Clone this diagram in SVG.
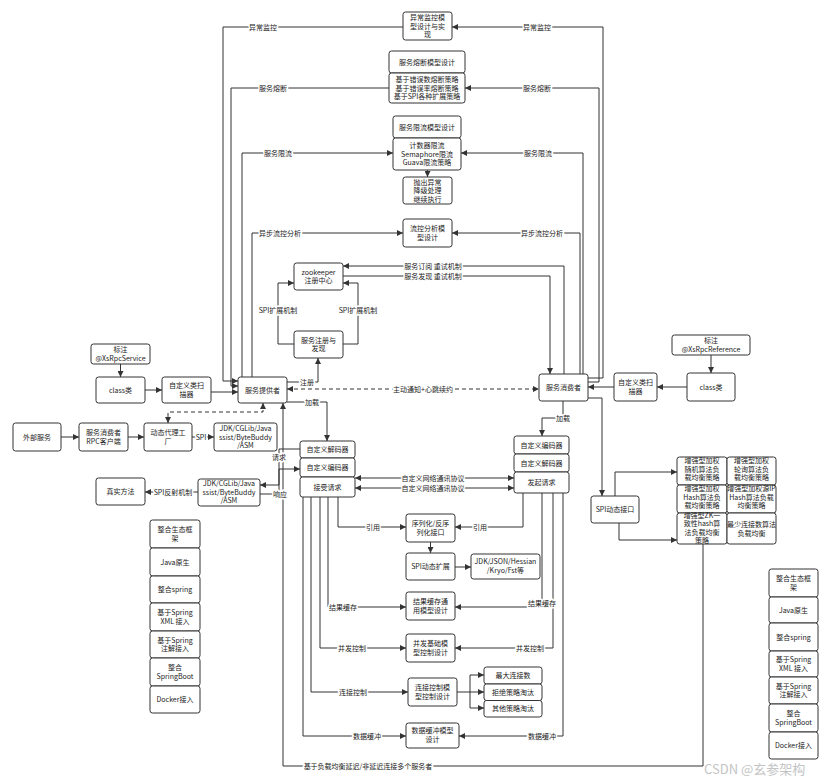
<svg xmlns="http://www.w3.org/2000/svg" width="832" height="784" viewBox="0 0 832 784">
<style>
.b{fill:#fff;stroke:#333;stroke-width:1}
.t{font-family:"Noto Sans CJK SC","Noto Sans",sans-serif;font-size:7px;fill:#222;text-anchor:middle}
.l{font-family:"Noto Sans CJK SC","Noto Sans",sans-serif;font-size:7px;fill:#222;text-anchor:middle;stroke:#fff;stroke-width:3px;paint-order:stroke;stroke-linejoin:round}
.c{fill:none;stroke:#333;stroke-width:1}
.a{marker-end:url(#ah)}
.aa{marker-start:url(#ah);marker-end:url(#ah)}
.d{stroke-dasharray:4 3}
.wm{font-family:"Noto Sans CJK SC","Noto Sans",sans-serif;font-size:13px;fill:#c4c4c4}
</style>
<defs>
<marker id="ah" markerUnits="userSpaceOnUse" markerWidth="7" markerHeight="6" refX="6" refY="3" orient="auto-start-reverse"><path d="M0,0 L6,3 L0,6 z" fill="#333"/></marker>
</defs>
<rect width="832" height="784" fill="#fff"/>

<!-- connectors -->
<g id="connectors">
<path class="c a" d="M403,27 H223 V381 H238"/>
<path class="c a" d="M588,378 H603 V27 H452"/>
<path class="c a" d="M389,88 H231 V386 H238"/>
<path class="c a" d="M588,382 H599 V88 H465"/>
<path class="c a" d="M242,377 V153 H393"/>
<path class="c a" d="M583,374 V153 H461"/>
<path class="c a" d="M252,377 V233 H403"/>
<path class="c a" d="M580,374 V233 H452"/>
<path class="c a" d="M427.5,170 V177"/>
<path class="c a" d="M294,344 H278 V283 H294"/>
<path class="c a" d="M343,344 H358 V283 H343"/>
<path class="c a" d="M287,382 H318 V358"/>
<path class="c a" d="M564,374 V266 H343"/>
<path class="c a" d="M343,276 H550 V374"/>
<path class="c aa d" d="M287,389 H539"/>
<path class="c a" d="M287,402 H327 V441"/>
<path class="c a" d="M563,401 V418 H542 V436"/>
<path class="c a" d="M588,398 H602 V496"/>
<path class="c a" d="M615,496 V472 H677"/>
<path class="c a" d="M619,523 V540 H677"/>
<path class="c a" d="M703,544 V766 H283 V403"/>
<path class="c a" d="M120.5,364 V377"/>
<path class="c a" d="M145,390 H162"/>
<path class="c a" d="M211,392 H238"/>
<path class="c a" d="M711,355 V373"/>
<path class="c a" d="M687,387 H657"/>
<path class="c a" d="M614,387 H588"/>
<path class="c aa d" d="M263,403 V412 H168 V423"/>
<path class="c a" d="M61,437 H79"/>
<path class="c a" d="M128,437 H144"/>
<path class="c a" d="M192,437 H214"/>
<path class="c a" d="M198,492 H145"/>
<path class="c a" d="M300,449 H279 V485 H260"/>
<path class="c a" d="M260,494 H279 V469 H300"/>
<path class="c aa" d="M355,478 H514"/>
<path class="c aa" d="M355,488 H514"/>
<path class="c a" d="M338,497 V527 H406"/>
<path class="c a" d="M523,493 V527 H455"/>
<path class="c a" d="M430.5,542 V553"/>
<path class="c a" d="M455,567 H471"/>
<path class="c a" d="M328,497 V607 H406"/>
<path class="c a" d="M542,493 V607 H455"/>
<path class="c a" d="M320,497 V648 H406"/>
<path class="c a" d="M553,493 V648 H455"/>
<path class="c a" d="M311,497 V692 H408"/>
<path class="c" d="M457,692 H470 M470,675 V708"/>
<path class="c a" d="M470,675 H484"/>
<path class="c a" d="M470,692 H484"/>
<path class="c a" d="M470,708 H484"/>
<path class="c a" d="M303,497 V736 H406"/>
<path class="c a" d="M563,493 V736 H459"/>

<text class="l" x="263" y="29.5">异常监控</text>
<text class="l" x="537" y="29.5">异常监控</text>
<text class="l" x="273" y="90.5">服务熔断</text>
<text class="l" x="537" y="90.5">服务熔断</text>
<text class="l" x="278" y="155.5">服务限流</text>
<text class="l" x="538" y="155.5">服务限流</text>
<text class="l" x="280" y="235.5">异步流控分析</text>
<text class="l" x="542" y="235.5">异步流控分析</text>
<text class="l" x="278" y="312.5">SPI扩展机制</text>
<text class="l" x="358" y="312.5">SPI扩展机制</text>
<text class="l" x="307" y="384.5">注册</text>
<text class="l" x="433" y="268.5">服务订阅 重试机制</text>
<text class="l" x="433" y="278.5">服务发现 重试机制</text>
<text class="l" x="423" y="391.5">主动通知+心跳续约</text>
<text class="l" x="312" y="404.5">加载</text>
<text class="l" x="563" y="420.5">加载</text>
<text class="l" x="368" y="768.5">基于负载均衡延迟/非延迟连接多个服务者</text>
<text class="l" x="201" y="439.5">SPI</text>
<text class="l" x="173" y="494.5">SPI反射机制</text>
<text class="l" x="279" y="459.5">请求</text>
<text class="l" x="280" y="496.5">响应</text>
<text class="l" x="433" y="480.5">自定义网络通讯协议</text>
<text class="l" x="433" y="490.5">自定义网络通讯协议</text>
<text class="l" x="373" y="529.5">引用</text>
<text class="l" x="480" y="529.5">引用</text>
<text class="l" x="343" y="609.5">结果缓存</text>
<text class="l" x="542" y="605.5">结果缓存</text>
<text class="l" x="352" y="650.5">并发控制</text>
<text class="l" x="530" y="650.5">并发控制</text>
<text class="l" x="353" y="694.5">连接控制</text>
<text class="l" x="367" y="738.5">数据缓冲</text>
<text class="l" x="542" y="738.5">数据缓冲</text>
</g>

<!-- top model boxes -->
<g id="monitor"><rect class="b" x="403" y="12" width="49" height="28" rx="2.5"/>
<text class="t" x="427.5" y="20">异常监控模</text><text class="t" x="427.5" y="28.5">型设计与实</text><text class="t" x="427.5" y="37">现</text></g>

<g id="breaker"><rect class="b" x="389" y="51" width="76" height="22" rx="2.5"/>
<text class="t" x="427" y="64.5">服务熔断模型设计</text>
<rect class="b" x="389" y="73" width="76" height="30" rx="2.5"/>
<text class="t" x="427" y="82">基于错误数熔断策略</text><text class="t" x="427" y="90.5">基于错误率熔断策略</text><text class="t" x="427" y="99">基于SPI各种扩展策略</text></g>

<g id="limiter"><rect class="b" x="393" y="116" width="68" height="22" rx="2.5"/>
<text class="t" x="427" y="129.5">服务限流模型设计</text>
<rect class="b" x="393" y="138" width="68" height="32" rx="2.5"/>
<text class="t" x="427" y="148">计数器限流</text><text class="t" x="427" y="156.5">Semaphore限流</text><text class="t" x="427" y="165">Guava限流策略</text></g>

<g id="fallback"><rect class="b" x="403" y="177" width="49" height="27" rx="2.5"/>
<text class="t" x="427.5" y="184.5">抛出异常</text><text class="t" x="427.5" y="193">降级处理</text><text class="t" x="427.5" y="201.5">继续执行</text></g>

<g id="flow-analysis"><rect class="b" x="403" y="219" width="49" height="28" rx="2.5"/>
<text class="t" x="427.5" y="231.3">流控分析模</text><text class="t" x="427.5" y="239.8">型设计</text></g>

<g id="zookeeper"><rect class="b" x="294" y="263" width="49" height="27" rx="2.5"/>
<text class="t" x="318.5" y="274.8">zookeeper</text><text class="t" x="318.5" y="283.3">注册中心</text></g>

<g id="registry"><rect class="b" x="294" y="331" width="49" height="27" rx="2.5"/>
<text class="t" x="318.5" y="342.8">服务注册与</text><text class="t" x="318.5" y="351.3">发现</text></g>

<g id="provider"><rect class="b" x="238" y="377" width="49" height="26" rx="2.5"/>
<text class="t" x="262.5" y="392.5">服务提供者</text></g>

<g id="consumer"><rect class="b" x="539" y="374" width="49" height="27" rx="2.5"/>
<text class="t" x="563.5" y="390">服务消费者</text></g>

<!-- provider side inputs -->
<g id="anno-service"><rect class="b" x="91" y="344" width="59" height="20" rx="2.5"/>
<text class="t" x="120.5" y="352">标注</text><text class="t" x="120.5" y="360.5">@XsRpcService</text></g>
<g id="class-left"><rect class="b" x="96" y="377" width="49" height="26" rx="2.5"/>
<text class="t" x="120.5" y="392.5">class类</text></g>
<g id="scanner-left"><rect class="b" x="162" y="377" width="49" height="26" rx="2.5"/>
<text class="t" x="186.5" y="388.3">自定义类扫</text><text class="t" x="186.5" y="396.8">描器</text></g>

<!-- consumer side inputs -->
<g id="anno-reference"><rect class="b" x="672" y="335" width="78" height="20" rx="2.5"/>
<text class="t" x="711" y="343">标注</text><text class="t" x="711" y="351.5">@XsRpcReference</text></g>
<g id="scanner-right"><rect class="b" x="614" y="373" width="43" height="28" rx="2.5"/>
<text class="t" x="635.5" y="385.3">自定义类扫</text><text class="t" x="635.5" y="393.8">描器</text></g>
<g id="class-right"><rect class="b" x="687" y="373" width="48" height="28" rx="2.5"/>
<text class="t" x="711" y="389.5">class类</text></g>

<!-- client proxy chain -->
<g id="external"><rect class="b" x="13" y="423" width="48" height="28" rx="2.5"/>
<text class="t" x="37" y="439.5">外部服务</text></g>
<g id="rpc-client"><rect class="b" x="79" y="423" width="49" height="28" rx="2.5"/>
<text class="t" x="103.5" y="435.3">服务消费者</text><text class="t" x="103.5" y="443.8">RPC客户端</text></g>
<g id="proxy-factory"><rect class="b" x="144" y="423" width="48" height="28" rx="2.5"/>
<text class="t" x="168" y="435.3">动态代理工</text><text class="t" x="168" y="443.8">厂</text></g>
<g id="proxy-impl"><rect class="b" x="214" y="423" width="63" height="28" rx="2.5"/>
<text class="t" x="245.5" y="431">JDK/CGLib/Java</text><text class="t" x="245.5" y="439.5">ssist/ByteBuddy</text><text class="t" x="245.5" y="448">/ASM</text></g>
<g id="real-method"><rect class="b" x="96" y="478" width="49" height="27" rx="2.5"/>
<text class="t" x="120.5" y="494">真实方法</text></g>
<g id="reflect-impl"><rect class="b" x="198" y="479" width="62" height="27" rx="2.5"/>
<text class="t" x="229" y="486">JDK/CGLib/Java</text><text class="t" x="229" y="494.5">ssist/ByteBuddy</text><text class="t" x="229" y="503">/ASM</text></g>

<!-- codec stacks -->
<g id="provider-codec">
<rect class="b" x="300" y="441" width="55" height="17" rx="2.5"/><text class="t" x="327.5" y="452">自定义解码器</text>
<rect class="b" x="300" y="458" width="55" height="19" rx="2.5"/><text class="t" x="327.5" y="470">自定义编码器</text>
<rect class="b" x="300" y="477" width="55" height="20" rx="2.5"/><text class="t" x="327.5" y="489.5">接受请求</text></g>
<g id="consumer-codec">
<rect class="b" x="514" y="436" width="55" height="18" rx="2.5"/><text class="t" x="541.5" y="447.5">自定义编码器</text>
<rect class="b" x="514" y="454" width="55" height="18" rx="2.5"/><text class="t" x="541.5" y="465.5">自定义解码器</text>
<rect class="b" x="514" y="472" width="55" height="21" rx="2.5"/><text class="t" x="541.5" y="485">发起请求</text></g>

<!-- load balancing -->
<g id="spi-interface"><rect class="b" x="591" y="496" width="48" height="27" rx="2.5"/>
<text class="t" x="615" y="512">SPI动态接口</text></g>
<g id="lb-strategies">
<rect class="b" x="677" y="457" width="50" height="28" rx="2.5"/>
<text class="t" x="702" y="463">增强型加权</text><text class="t" x="702" y="471.5">随机算法负</text><text class="t" x="702" y="480">载均衡策略</text>
<rect class="b" x="727" y="457" width="49" height="28" rx="2.5"/>
<text class="t" x="751.5" y="463">增强型加权</text><text class="t" x="751.5" y="471.5">轮询算法负</text><text class="t" x="751.5" y="480">载均衡策略</text>
<rect class="b" x="677" y="485" width="50" height="28" rx="2.5"/>
<text class="t" x="702" y="491">增强型加权</text><text class="t" x="702" y="499.5">Hash算法负</text><text class="t" x="702" y="508">载均衡策略</text>
<rect class="b" x="727" y="485" width="49" height="28" rx="2.5"/>
<text class="t" x="751.5" y="491">增强型加权源IP</text><text class="t" x="751.5" y="499.5">Hash算法负载</text><text class="t" x="751.5" y="508">均衡策略</text>
<rect class="b" x="677" y="513" width="50" height="31" rx="2.5"/>
<text class="t" x="702" y="517.8">增强型ZK一</text><text class="t" x="702" y="526.3">致性hash算</text><text class="t" x="702" y="534.8">法负载均衡</text><text class="t" x="702" y="543.3">策略</text>
<rect class="b" x="727" y="513" width="49" height="31" rx="2.5"/>
<text class="t" x="751.5" y="527">最少连接数算法</text><text class="t" x="751.5" y="535.5">负载均衡</text></g>

<!-- serialization and model designs -->
<g id="serializer"><rect class="b" x="406" y="514" width="49" height="28" rx="2.5"/>
<text class="t" x="430.5" y="526.3">序列化/反序</text><text class="t" x="430.5" y="534.8">列化接口</text></g>
<g id="spi-extension"><rect class="b" x="406" y="553" width="49" height="27" rx="2.5"/>
<text class="t" x="430.5" y="569">SPI动态扩展</text></g>
<g id="serializer-impl"><rect class="b" x="471" y="554" width="69" height="25" rx="2.5"/>
<text class="t" x="505.5" y="564.3">JDK/JSON/Hessian</text><text class="t" x="505.5" y="572.8">/Kryo/Fst等</text></g>
<g id="result-cache"><rect class="b" x="406" y="592" width="49" height="28" rx="2.5"/>
<text class="t" x="430.5" y="604.3">结果缓存通</text><text class="t" x="430.5" y="612.8">用模型设计</text></g>
<g id="concurrency"><rect class="b" x="406" y="634" width="49" height="28" rx="2.5"/>
<text class="t" x="430.5" y="646.3">并发基础模</text><text class="t" x="430.5" y="654.8">型控制设计</text></g>
<g id="connection"><rect class="b" x="408" y="678" width="49" height="28" rx="2.5"/>
<text class="t" x="432.5" y="690.3">连接控制模</text><text class="t" x="432.5" y="698.8">型控制设计</text></g>
<g id="conn-policies">
<rect class="b" x="484" y="667" width="58" height="17" rx="2.5"/><text class="t" x="513" y="678">最大连接数</text>
<rect class="b" x="484" y="684" width="58" height="16.5" rx="2.5"/><text class="t" x="513" y="694.8">拒绝策略淘汰</text>
<rect class="b" x="484" y="700.5" width="58" height="16.5" rx="2.5"/><text class="t" x="513" y="711.3">其他策略淘汰</text></g>
<g id="data-buffer"><rect class="b" x="406" y="723" width="53" height="25" rx="2.5"/>
<text class="t" x="432.5" y="733.3">数据缓冲模型</text><text class="t" x="432.5" y="741.8">设计</text></g>

<!-- ecosystem stacks -->
<g id="eco-left">
<rect class="b" x="150" y="520" width="50" height="28" rx="2.5"/><text class="t" x="175" y="532.3">整合生态框</text><text class="t" x="175" y="540.8">架</text>
<rect class="b" x="150" y="548" width="50" height="28" rx="2.5"/><text class="t" x="175" y="564.5">Java原生</text>
<rect class="b" x="150" y="576" width="50" height="27" rx="2.5"/><text class="t" x="175" y="592">整合spring</text>
<rect class="b" x="150" y="603" width="50" height="28" rx="2.5"/><text class="t" x="175" y="615.3">基于Spring</text><text class="t" x="175" y="623.8">XML 接入</text>
<rect class="b" x="150" y="631" width="50" height="27" rx="2.5"/><text class="t" x="175" y="642.8">基于Spring</text><text class="t" x="175" y="651.3">注解接入</text>
<rect class="b" x="150" y="658" width="50" height="28" rx="2.5"/><text class="t" x="175" y="670.3">整合</text><text class="t" x="175" y="678.8">SpringBoot</text>
<rect class="b" x="150" y="686" width="50" height="27" rx="2.5"/><text class="t" x="175" y="702">Docker接入</text></g>
<g id="eco-right">
<rect class="b" x="769" y="569" width="49" height="28" rx="2.5"/><text class="t" x="793.5" y="581.3">整合生态框</text><text class="t" x="793.5" y="589.8">架</text>
<rect class="b" x="769" y="597" width="49" height="26" rx="2.5"/><text class="t" x="793.5" y="612.5">Java原生</text>
<rect class="b" x="769" y="623" width="49" height="28" rx="2.5"/><text class="t" x="793.5" y="639.5">整合spring</text>
<rect class="b" x="769" y="651" width="49" height="26" rx="2.5"/><text class="t" x="793.5" y="662.3">基于Spring</text><text class="t" x="793.5" y="670.8">XML 接入</text>
<rect class="b" x="769" y="677" width="49" height="27" rx="2.5"/><text class="t" x="793.5" y="688.8">基于Spring</text><text class="t" x="793.5" y="697.3">注解接入</text>
<rect class="b" x="769" y="704" width="49" height="28" rx="2.5"/><text class="t" x="793.5" y="716.3">整合</text><text class="t" x="793.5" y="724.8">SpringBoot</text>
<rect class="b" x="769" y="732" width="49" height="27" rx="2.5"/><text class="t" x="793.5" y="748">Docker接入</text></g>

<text class="wm" x="704" y="774">CSDN @玄参架构</text>
</svg>
